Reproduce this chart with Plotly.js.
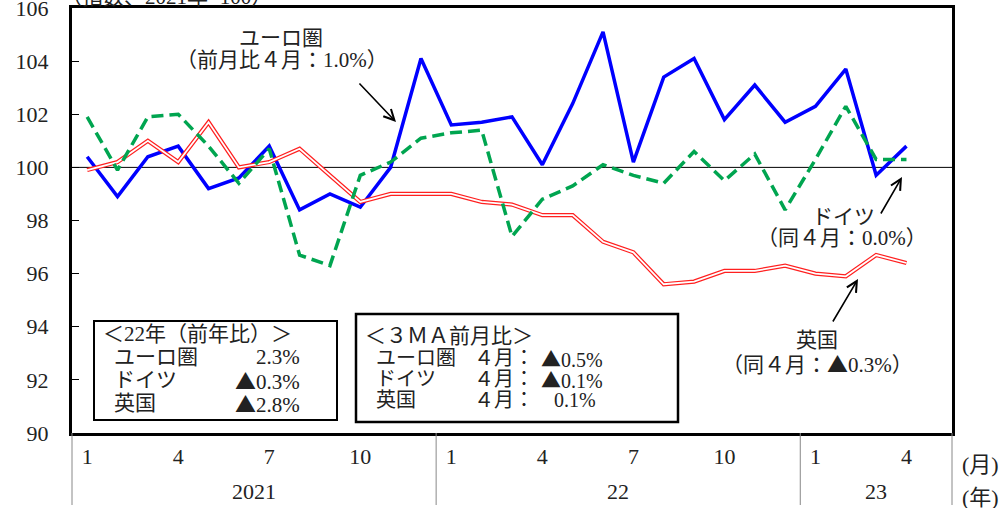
<!DOCTYPE html>
<html>
<head>
<meta charset="utf-8">
<script src="https://cdn.plot.ly/plotly-3.0.1.min.js"></script>
<style>html,body{margin:0;padding:0;background:#fff;}</style>
</head>
<body>
<div id="chart" style="width:1007px;height:508px;"></div>
<script>
// ---- data ----
const months = ['2021-01','2021-02','2021-03','2021-04','2021-05','2021-06','2021-07','2021-08','2021-09','2021-10','2021-11','2021-12',
                '2022-01','2022-02','2022-03','2022-04','2022-05','2022-06','2022-07','2022-08','2022-09','2022-10','2022-11','2022-12',
                '2023-01','2023-02','2023-03','2023-04'];
const euro    = [100.4, 98.9,100.4,100.8, 99.2, 99.6,100.8, 98.4, 99.0, 98.5,100.0,104.1,
                  101.6,101.7,101.9,100.1,102.4,105.1,100.2,103.4,104.1,101.8,103.1,101.7,
                  102.3,103.7, 99.7,100.8];
const germany = [101.9, 99.9,101.9,102.0,100.8, 99.4,100.7, 96.7, 96.3, 99.7,100.2,101.1,
                  101.3,101.4, 97.4, 98.8, 99.3,100.1, 99.7, 99.4,100.6, 99.5,100.5, 98.4,
                  100.3,102.3,100.3,100.3];
const uk      = [ 99.9,100.2,101.0,100.2,101.7,100.0,100.2,100.7, 99.7, 98.7, 99.0, 99.0,
                   99.0, 98.7, 98.6, 98.2, 98.2, 97.2, 96.8, 95.6, 95.7, 96.1, 96.1, 96.3,
                   96.0, 95.9, 96.7, 96.4];
const tickMonths = ['1','4','7','10','1','4','7','10','1','4'];
const yTicks = [90, 92, 94, 96, 98, 100, 102, 104, 106];
const yearLabels = ['2021','22','23'];
const baseLine = 100;

const box1Title = '＜22年（前年比）＞';
const box1Names = ['ユーロ圏','ドイツ','英国'];
const box1Vals  = ['2.3%','▲0.3%','▲2.8%'];
const box2Title = '＜３ＭＡ前月比＞';
const box2Names = ['ユーロ圏','ドイツ','英国'];
const box2Month = ['４月：','４月：','４月：'];
const box2Vals  = ['▲0.5%','▲0.1%','0.1%'];

// ---- geometry helpers ----
const W = 1007, H = 508;
const M = {l:72, r:55, t:8, b:75};
const PW = W - M.l - M.r, PH = H - M.t - M.b;
const px = x => (x - M.l) / PW;
const py = y => (H - M.b - y) / PH;
const XMIN = -0.5, XMAX = months.length + 0.5;
const xi = months.map((m,i) => i);
const xToPaper = v => (v - XMIN) / (XMAX - XMIN);

const FONT = '"Liberation Serif","Noto Sans CJK JP",serif';
const TXT = {family: FONT, size: 21, color: '#222'};
const tri = s => s.replace(/▲/g, '<span style="font-family:\'Noto Sans CJK JP\'">▲</span>');

// tick positions: months with labels (Jan, Apr, Jul, Oct)
const tickvals = xi.filter(i => (i % 3) === 0);

// year boundaries
const yearStarts = [];
months.forEach((m,i) => { if (m.endsWith('-01')) yearStarts.push(i); });
const dividers = yearStarts.map(i => i - 0.5).concat([XMAX]);

const traces = [
  {x: xi, y: euro, type: 'scatter', mode: 'lines', line: {color: '#0000ff', width: 3.5}, hoverinfo: 'skip'},
  {x: xi, y: uk, type: 'scatter', mode: 'lines', line: {color: '#ff2020', width: 4.2}, hoverinfo: 'skip'},
  {x: xi, y: uk, type: 'scatter', mode: 'lines', line: {color: '#ffffff', width: 1.8}, hoverinfo: 'skip'},
  {x: xi, y: germany, type: 'scatter', mode: 'lines', line: {color: '#00a550', width: 3.5, dash: '12px,6px'}, hoverinfo: 'skip'}
];

const shapes = [
  {type: 'line', xref: 'paper', yref: 'y', x0: 0, x1: 1, y0: baseLine, y1: baseLine, line: {color: '#000', width: 1}, layer: 'below'},
  {type: 'rect', xref: 'paper', yref: 'paper', x0: px(94), x1: px(337), y0: py(420), y1: py(321), line: {color: '#000', width: 2}, fillcolor: '#fff', layer: 'below'},
  {type: 'rect', xref: 'paper', yref: 'paper', x0: px(356), x1: px(678), y0: py(422), y1: py(314), line: {color: '#000', width: 2.5}, fillcolor: '#fff', layer: 'below'}
];
dividers.forEach(d => shapes.push({type: 'line', xref: 'paper', yref: 'paper', x0: xToPaper(d), x1: xToPaper(d), y0: 0, y1: py(505), line: {color: '#888', width: 1}}));

const ann = [];
function addText(text, x, y, xanchor, size) {
  ann.push({text: tri(text), xref: 'paper', yref: 'paper', x: px(x), y: py(y), xanchor: xanchor || 'left', yanchor: 'middle', showarrow: false, borderpad: 0, font: Object.assign({}, TXT, size ? {size: size} : {})});
}
// y-axis title (partially clipped at top)
addText('（指数、2021年=100）', 273, -3, 'right');
// year labels
yearLabels.forEach((t, k) => {
  const c = (dividers[k] + dividers[k+1]) / 2;
  ann.push({text: t, xref: 'paper', yref: 'paper', x: xToPaper(c), y: py(491), xanchor: 'center', yanchor: 'middle', showarrow: false, font: Object.assign({}, TXT, {size: 22})});
});
addText('(月)', 961, 464, 'left', 22);
addText('(年)', 961, 497, 'left', 22);

// series callouts
addText('ユーロ圏', 281, 38, 'center');
addText('（前月比４月：1.0%）', 282, 60, 'center');
addText('ドイツ', 843, 217, 'center');
addText('（同４月：0.0%）', 842, 238, 'center');
addText('英国', 817, 340, 'center');
addText('（同４月：▲0.3%）', 817, 363, 'center');

function addArrow(hx, hy, tx, ty) {
  ann.push({text: '', xref: 'paper', yref: 'paper', x: px(hx), y: py(hy), ax: tx - hx, ay: ty - hy,
    showarrow: true, arrowhead: 5, arrowsize: 1.3, arrowwidth: 1.6, arrowcolor: '#000', standoff: 0, startstandoff: 0});
}
addArrow(396, 122, 358, 82);
addArrow(902, 177, 880, 215);
addArrow(858, 279, 832, 323);

// box 1
addText(box1Title, 102, 334, 'left');
box1Names.forEach((n, k) => {
  const y = 357 + k * 23;
  addText(n, 113, y, 'left');
  addText(box1Vals[k], 301, y, 'right');
});
// box 2
addText(box2Title, 364, 336, 'left');
box2Names.forEach((n, k) => {
  const y = 358 + k * 21;
  addText(n, 375, y, 'left', 20);
  addText(box2Month[k], 473, y, 'left', 20);
  addText(box2Vals[k], box2Vals[k].startsWith('▲') ? 540 : 553, y, 'left', 20);
});

const layout = {
  width: W, height: H,
  margin: M,
  paper_bgcolor: '#fff', plot_bgcolor: '#fff',
  showlegend: false,
  font: {family: FONT, color: '#222'},
  xaxis: {
    range: [XMIN, XMAX], tickvals: tickvals, ticktext: tickMonths,
    showgrid: false, zeroline: false, ticks: '',
    showline: true, mirror: true, linecolor: '#000', linewidth: 3,
    tickfont: {family: FONT, size: 22, color: '#222'}, ticklabelstandoff: 2
  },
  yaxis: {
    range: [90, 106], tickmode: 'array', tickvals: yTicks, ticktext: yTicks.map(String),
    showgrid: false, zeroline: false, ticks: 'inside', ticklen: 7, tickcolor: '#000', tickwidth: 1,
    showline: true, mirror: true, linecolor: '#000', linewidth: 3,
    tickfont: {family: FONT, size: 22, color: '#222'}, ticklabelstandoff: 16, ticklabeloverflow: 'allow'
  },
  shapes: shapes,
  annotations: ann
};

Plotly.newPlot('chart', traces, layout, {staticPlot: true, displayModeBar: false});
</script>
</body>
</html>
